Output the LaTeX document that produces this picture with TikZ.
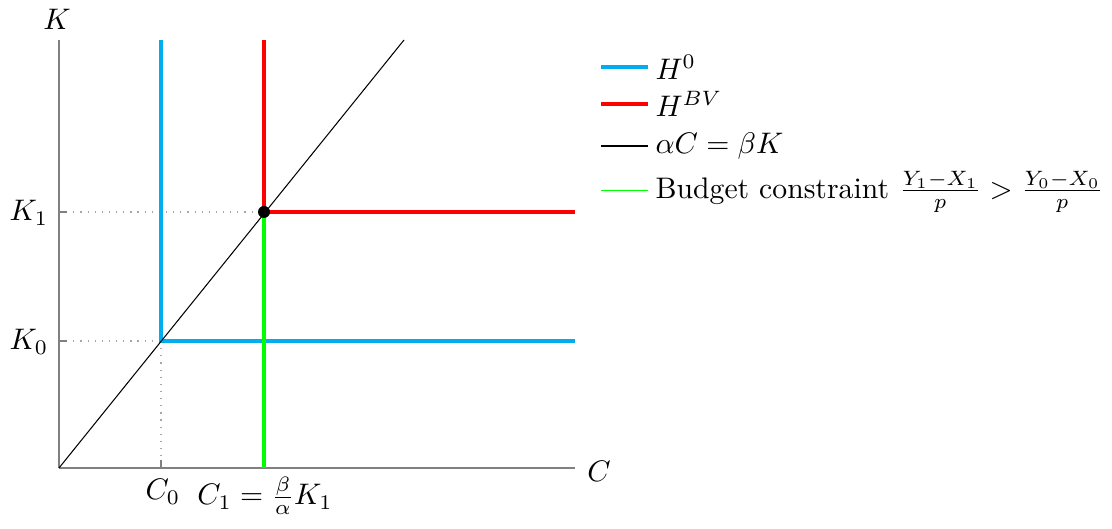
\documentclass[tikz,border=0pt]{standalone}
\usepackage{amsmath}
\definecolor{hblue}{RGB}{0,174,239}
\definecolor{hred}{RGB}{255,0,0}
\definecolor{hgreen}{RGB}{0,255,0}
\begin{document}
\begin{tikzpicture}[x=0.3365pt,y=-0.3365pt,
  axisline/.style={gray,line width=0.45pt},
  guide/.style={gray!70,dotted,line width=0.4pt},
  curve/.style={line width=1.2pt},
  lbl/.style={inner sep=0pt}]
\useasboundingbox (0,0) rectangle (1112,529);
% coordinates
\coordinate (O) at (59,468);
\coordinate (Xend) at (575,468);
\coordinate (Yend) at (59,40);
\coordinate (K1y) at (59,212);
\coordinate (K0y) at (59,341);
\coordinate (C0x) at (161,468);
\coordinate (C1x) at (264,468);
\coordinate (P0) at (161,341);
\coordinate (P1) at (264,212);
\coordinate (B0top) at (161,40);
\coordinate (B0right) at (575,341);
\coordinate (R1top) at (264,40);
\coordinate (R1right) at (575,212);
\coordinate (Dend) at (404,40);
% guides
\draw[guide] (K1y) -- (P1);
\draw[guide] (K0y) -- (P0);
\draw[guide] (P0) -- (C0x);
% axes
\draw[axisline] (O) -- (Xend);
\draw[axisline] (O) -- (Yend);
\draw[axisline] (K1y) -- ++(8,0);
\draw[axisline] (K0y) -- ++(8,0);
\draw[axisline] (C0x) -- ++(0,-8);
\draw[axisline] (C1x) -- ++(0,-8);
% curves
\draw[curve,hblue] (B0top) -- (P0) -- (B0right);
\draw[curve,hred] (R1top) -- (P1) -- (R1right);
\draw[curve,hgreen] (P1) -- (C1x);
\draw[black,line width=0.35pt] (O) -- (Dend);
\fill (P1) circle (6);
% labels
\node[lbl] (Klab) at (57,19) {$K$};
\node[lbl] (Clab) at (599,471) {$C$};
\node[lbl] (K1lab) at (29,213) {$K_1$};
\node[lbl] (K0lab) at (29,342) {$K_0$};
\node[lbl] (C0lab) at (163,492) {$C_0$};
\node[lbl] (C1lab) at (265,496) {$C_1=\frac{\beta}{\alpha}K_1$};
% legend
\coordinate (L1a) at (601,67); \coordinate (L1b) at (648,67);
\coordinate (L2a) at (601,104); \coordinate (L2b) at (648,104);
\coordinate (L3a) at (601,146); \coordinate (L3b) at (648,146);
\coordinate (L4a) at (601,190); \coordinate (L4b) at (648,190);
\draw[curve,hblue] (L1a) -- (L1b);
\draw[curve,hred] (L2a) -- (L2b);
\draw[black,line width=0.35pt] (L3a) -- (L3b);
\draw[hgreen,line width=0.3pt] (L4a) -- (L4b);
\node[lbl,anchor=west] (T1) at (655,67) {$H^0$};
\node[lbl,anchor=west] (T2) at (655,104) {$H^{BV}$};
\node[lbl,anchor=west] (T3) at (655,146) {$\alpha C=\beta K$};
\node[lbl,anchor=west] (T4) at (655,192) {Budget constraint $\frac{Y_1-X_1}{p}>\frac{Y_0-X_0}{p}$};
\end{tikzpicture}
\end{document}
